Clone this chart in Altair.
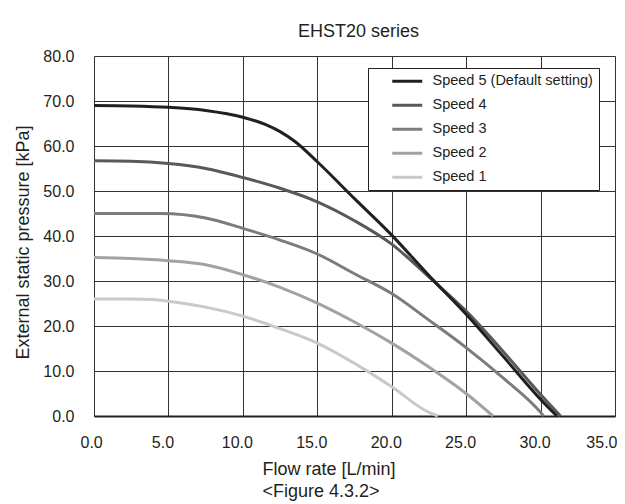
import altair as alt
import pandas as pd

# ---- data ----
series_names = ["Speed 5 (Default setting)", "Speed 4", "Speed 3", "Speed 2", "Speed 1"]
series_colors = ["#231f20", "#58595b", "#7b7c7f", "#a0a2a5", "#c8c9cb"]

speed5_flow = [0, 2.5, 5, 7.5, 10, 11.5, 12.5, 13.5, 15, 17.5, 20, 22.5, 25, 27.5, 30, 31.1]
speed5_pressure = [69.0, 68.9, 68.6, 67.9, 66.4, 64.8, 63.2, 61.0, 56.5, 48.3, 40.2, 31.2, 22.6, 13.2, 3.7, 0]

speed4_flow = [0, 2.5, 5, 7.5, 10, 12.5, 15, 17.5, 20, 22.5, 25, 27.5, 30, 31.35]
speed4_pressure = [56.7, 56.6, 56.1, 55.0, 53.0, 50.6, 47.6, 43.4, 38.2, 30.9, 23.3, 14.3, 4.8, 0]

speed3_flow = [0, 2.5, 4.5, 7.5, 10, 12.5, 15, 17.5, 20, 22.5, 25, 27.5, 30, 30.2]
speed3_pressure = [45.0, 45.0, 45.0, 44.0, 41.7, 39.1, 36.0, 31.6, 27.2, 21.3, 15.2, 8.4, 0.8, 0]

speed2_flow = [0, 2.5, 5, 7.5, 10, 12.5, 15, 17.5, 20, 22.5, 25, 26.8]
speed2_pressure = [35.2, 35.0, 34.5, 33.6, 31.4, 28.6, 25.1, 20.9, 16.2, 10.9, 5.0, 0]

speed1_flow = [0, 2.5, 4, 5, 7.5, 10, 12.5, 15, 17.5, 20, 22.5, 23.1]
speed1_pressure = [26.0, 26.0, 25.9, 25.5, 24.2, 22.2, 19.4, 16.2, 11.7, 6.5, 0.8, 0]

x_ticks = [0, 5, 10, 15, 20, 25, 30, 35]
y_ticks = [0, 10, 20, 30, 40, 50, 60, 70, 80]

chart_title = "EHST20 series"
x_title = ["Flow rate [L/min]", "<Figure 4.3.2>"]
y_title = "External static pressure [kPa]"

# ---- build table ----
series_data = [
    (series_names[4], speed1_flow, speed1_pressure),
    (series_names[3], speed2_flow, speed2_pressure),
    (series_names[2], speed3_flow, speed3_pressure),
    (series_names[1], speed4_flow, speed4_pressure),
    (series_names[0], speed5_flow, speed5_pressure),
]
rows = []
for name, xs, ys in series_data:
    for i, (xv, yv) in enumerate(zip(xs, ys)):
        rows.append({"series": name, "flow": xv, "pressure": yv, "idx": i})
df = pd.DataFrame(rows)

FONT = "Liberation Sans"
TEXT = "#231f20"
GRID = "#333333"

chart = (
    alt.Chart(df)
    .mark_line(strokeWidth=3, interpolate="monotone")
    .encode(
        x=alt.X(
            "flow:Q",
            scale=alt.Scale(domain=[0, 35], nice=False),
            axis=alt.Axis(
                values=x_ticks,
                format=".1f",
                title=x_title,
                grid=True,
                gridColor=GRID,
                gridWidth=1,
                domain=True,
                domainColor=TEXT,
                domainWidth=2,
                ticks=False,
                tickSize=0,
                labelFont=FONT,
                labelFontSize=16,
                labelColor=TEXT,
                labelPadding=18,
                labelOffset=-6,
                labelFlush=True,
                labelFlushOffset=8,
                titleFont=FONT,
                titleFontSize=18,
                titleFontWeight="normal",
                titleColor=TEXT,
                titleAlign="left",
                titleX=168,
                titleY=58,
                titleBaseline="alphabetic",
                titleLineHeight=22,
            ),
        ),
        y=alt.Y(
            "pressure:Q",
            scale=alt.Scale(domain=[0, 80], nice=False),
            axis=alt.Axis(
                values=y_ticks,
                format=".1f",
                title=y_title,
                grid=True,
                gridColor=GRID,
                gridWidth=1,
                domain=False,
                ticks=False,
                tickSize=0,
                labelFont=FONT,
                labelFontSize=16,
                labelColor=TEXT,
                labelPadding=20,
                titleFont=FONT,
                titleFontSize=18,
                titleFontWeight="normal",
                titleColor=TEXT,
                titleAlign="center",
                titleBaseline="alphabetic",
                titleX=-66,
                titleY=186,
            ),
        ),
        color=alt.Color(
            "series:N",
            scale=alt.Scale(domain=series_names, range=series_colors),
            sort=series_names,
            title=None,
            legend=alt.Legend(
                orient="none",
                legendX=274,
                legendY=12,
                direction="vertical",
                strokeColor=TEXT,
                fillColor="white",
                padding=6,
                symbolType="M-3,0L3,0",
                symbolSize=100,
                symbolStrokeWidth=3,
                symbolOffset=26,
                labelOffset=18,
                labelFont=FONT,
                labelFontSize=14.5,
                labelColor=TEXT,
                labelLimit=400,
                rowPadding=9,
            ),
        ),
        order=alt.Order("idx:Q"),
    )
    .properties(
        width=521,
        height=360,
        autosize=alt.AutoSizeParams(type="none"),
        padding={"left": 86, "top": 48, "right": 2, "bottom": 88},
        title=alt.TitleParams(
            chart_title,
            font=FONT,
            fontSize=18,
            fontWeight="normal",
            color=TEXT,
            anchor="middle",
            frame="group",
            baseline="alphabetic",
            offset=13,
            dx=4,
            dy=20,
        ),
    )
    .configure_view(stroke=TEXT, strokeWidth=1.5)
    .configure(background="white")
)

chart.save("out.html", embed_options={"renderer": "svg", "actions": False})
